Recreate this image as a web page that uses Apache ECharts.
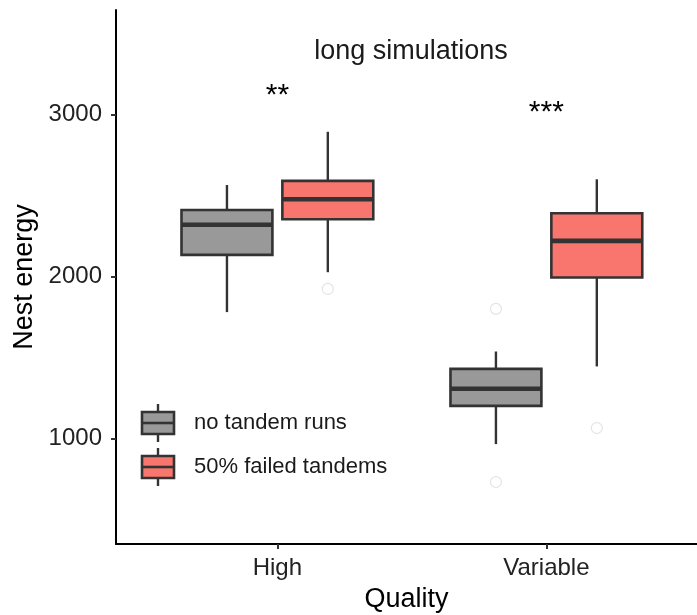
<!DOCTYPE html>
<html>
<head>
<meta charset="utf-8">
<script src="https://cdn.jsdelivr.net/npm/echarts@6/dist/echarts.min.js"></script>
<style>
  html, body { margin: 0; padding: 0; background: #ffffff; }
  #chart { width: 697px; height: 615px; }
</style>
</head>
<body>
<div id="chart"></div>
<script>
// Categories on the x axis (placed at positions 1 and 2)
const categories = ['High', 'Variable'];
const groupNames = ['no tandem runs', '50% failed tandems'];

// Box summaries per category: [lower whisker, Q1, median, Q3, upper whisker]
const noTandemStats = [
  [1781, 2134, 2320, 2411, 2565],
  [967, 1203, 1308, 1431, 1538]
];
const failedStats = [
  [2027, 2354, 2477, 2590, 2893],
  [1446, 1994, 2220, 2391, 2600]
];

// Outlying points: [category index, value]
const noTandemOutliers = [[1, 1801], [1, 733]];
const failedOutliers = [[0, 1924], [1, 1066]];

// Significance marks above each category
const signifText = ['**', '***'];
const signifY = [3115, 3011];

const yTicks = [1000, 2000, 3000];

const FONT = "'Liberation Sans', Arial, sans-serif";
const STROKE = '#333333';
const FILLS = ['#999999', '#F8766D'];
const DODGE = 0.1875;   // half of the dodge distance, in category units
const HALF_BOX = 0.169; // half box width, in category units

function boxData(stats) {
  return stats.map((s, i) => [i + 1].concat(s));
}
function outlierData(list, offset) {
  return list.map(o => [o[0] + 1 + offset, o[1]]);
}

function boxRenderer(offset, fill) {
  return function (params, api) {
    const xc = api.value(0) + offset;
    const c = api.coord([xc, api.value(1)]);
    const pLo = c[1];
    const pQ1 = api.coord([xc, api.value(2)])[1];
    const pMed = api.coord([xc, api.value(3)])[1];
    const pQ3 = api.coord([xc, api.value(4)])[1];
    const pHi = api.coord([xc, api.value(5)])[1];
    const xl = api.coord([xc - HALF_BOX, api.value(3)])[0];
    const xr = api.coord([xc + HALF_BOX, api.value(3)])[0];
    const x = c[0];
    return {
      type: 'group',
      children: [
        { type: 'line', shape: { x1: x, y1: pHi, x2: x, y2: pQ3 },
          style: { stroke: STROKE, lineWidth: 2.4 } },
        { type: 'line', shape: { x1: x, y1: pQ1, x2: x, y2: pLo },
          style: { stroke: STROKE, lineWidth: 2.4 } },
        { type: 'rect', shape: { x: xl, y: pQ3, width: xr - xl, height: pQ1 - pQ3 },
          style: { fill: fill, stroke: STROKE, lineWidth: 2.6 } },
        { type: 'line', shape: { x1: xl, y1: pMed, x2: xr, y2: pMed },
          style: { stroke: STROKE, lineWidth: 4.6 } }
      ]
    };
  };
}

const chart = echarts.init(document.getElementById('chart'), null, { renderer: 'canvas' });

// Legend keys drawn as small boxplot glyphs
function legendKey(y, fill, label) {
  return {
    type: 'group',
    children: [
      { type: 'line', shape: { x1: 158, y1: y - 19, x2: 158, y2: y + 19 },
        style: { stroke: STROKE, lineWidth: 2.4 } },
      { type: 'rect', shape: { x: 142, y: y - 11, width: 32, height: 22 },
        style: { fill: fill, stroke: STROKE, lineWidth: 2.6 } },
      { type: 'line', shape: { x1: 142, y1: y, x2: 174, y2: y },
        style: { stroke: STROKE, lineWidth: 2.6 } },
      { type: 'text', x: 194, y: y,
        style: { text: label, font: '22px ' + FONT, fill: '#1a1a1a',
                 align: 'left', verticalAlign: 'middle' } }
    ]
  };
}

chart.setOption({
  animation: false,
  backgroundColor: '#ffffff',
  grid: { left: 116, right: 0, top: 10, bottom: 71, containLabel: false,
          outerBoundsMode: 'none' },
  xAxis: {
    type: 'value',
    min: 0.4,
    max: 2.56,
    name: 'Quality',
    nameLocation: 'middle',
    nameGap: 42,
    nameTextStyle: { fontFamily: FONT, fontSize: 27, color: '#000' },
    axisLine: { lineStyle: { color: '#000', width: 2 } },
    axisTick: { show: true, length: 5, customValues: [1, 2],
                lineStyle: { color: '#333', width: 2 } },
    axisLabel: { customValues: [1, 2], margin: 12,
                 formatter: v => categories[Math.round(v) - 1] || '',
                 fontFamily: FONT, fontSize: 24, color: '#222' },
    splitLine: { show: false }
  },
  yAxis: {
    type: 'value',
    min: 351,
    max: 3644,
    name: 'Nest energy',
    nameLocation: 'middle',
    nameGap: 77,
    nameRotate: 90,
    nameTextStyle: { fontFamily: FONT, fontSize: 27, color: '#000' },
    axisLine: { lineStyle: { color: '#000', width: 2 } },
    axisTick: { show: true, length: 5, customValues: yTicks,
                lineStyle: { color: '#333', width: 2 } },
    axisLabel: { customValues: yTicks, margin: 14,
                 formatter: v => String(v),
                 fontFamily: FONT, fontSize: 24, color: '#222' },
    splitLine: { show: false }
  },
  graphic: [
    { type: 'text', x: 411, y: 52,
      style: { text: 'long simulations', font: '27px ' + FONT, fill: '#1a1a1a',
               align: 'center', verticalAlign: 'middle' } },
    legendKey(423, FILLS[0], groupNames[0]),
    legendKey(467, FILLS[1], groupNames[1])
  ],
  series: [
    {
      name: groupNames[0] + ' outliers',
      type: 'scatter',
      symbol: 'circle',
      symbolSize: 11,
      itemStyle: { color: 'rgba(255,255,255,0)', borderColor: '#dddddd', borderWidth: 1.2 },
      data: outlierData(noTandemOutliers, -DODGE),
      z: 1
    },
    {
      name: groupNames[1] + ' outliers',
      type: 'scatter',
      symbol: 'circle',
      symbolSize: 11,
      itemStyle: { color: 'rgba(255,255,255,0)', borderColor: '#dddddd', borderWidth: 1.2 },
      data: outlierData(failedOutliers, DODGE),
      z: 1
    },
    {
      name: groupNames[0],
      type: 'custom',
      renderItem: boxRenderer(-DODGE, FILLS[0]),
      encode: { x: 0, y: [1, 2, 3, 4, 5] },
      data: boxData(noTandemStats),
      z: 2
    },
    {
      name: groupNames[1],
      type: 'custom',
      renderItem: boxRenderer(DODGE, FILLS[1]),
      encode: { x: 0, y: [1, 2, 3, 4, 5] },
      data: boxData(failedStats),
      z: 2
    },
    {
      name: 'significance',
      type: 'custom',
      renderItem: function (params, api) {
        const p = api.coord([api.value(0), api.value(1)]);
        return {
          type: 'text', x: p[0], y: p[1],
          style: { text: signifText[params.dataIndex], font: '30px ' + FONT,
                   fill: '#000', align: 'center', verticalAlign: 'middle' }
        };
      },
      encode: { x: 0, y: 1 },
      data: signifY.map((v, i) => [i + 1, v]),
      z: 3
    }
  ]
});
</script>
</body>
</html>
